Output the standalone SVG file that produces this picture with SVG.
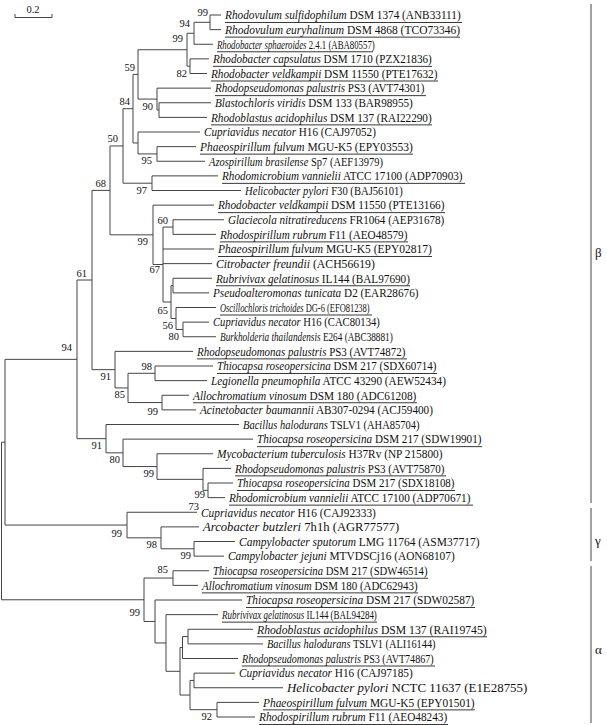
<svg xmlns="http://www.w3.org/2000/svg" width="607" height="725" viewBox="0 0 607 725">
<style>
.t{font-family:"Liberation Serif","Times New Roman",serif;font-size:12px;fill:#111}
.i{font-style:italic}
.u{stroke:#222;stroke-width:0.9}
.b{font-family:"Liberation Serif","Times New Roman",serif;font-size:10.5px;fill:#111;text-anchor:end}
.c{fill:none;stroke:#444;stroke-width:1}
.g{font-family:"Liberation Serif","Times New Roman",serif;font-size:13px;fill:#111}
</style>
<rect width="607" height="725" fill="#fff"/>
<g id="scale-bar">
<text class="b" x="33" y="13" style="text-anchor:middle">0.2</text>
<path class="c" d="M15,14V17.5H52V14"/>
</g>
<g id="connectors">
<path class="c" d="M210,15V29.63M210,15H221M210,29.63H221"/>
<path class="c" d="M194,22.31V44.25M194,22.31H210M194,44.25H213"/>
<path class="c" d="M190,58.88V73.5M190,58.88H209M190,73.5H207"/>
<path class="c" d="M187,33.28V66.19M187,33.28H194M187,66.19H190"/>
<path class="c" d="M159,102.75V117.38M159,102.75H211M159,117.38H207"/>
<path class="c" d="M157,88.13V110.06M157,88.13H211M157,110.06H159"/>
<path class="c" d="M138,49.74V99.1M138,49.74H187M138,99.1H157"/>
<path class="c" d="M157,146.63V161.25M157,146.63H196M157,161.25H205"/>
<path class="c" d="M138,132V153.94M138,132H200M138,153.94H157"/>
<path class="c" d="M133,74.42V142.97M133,74.42H138M133,142.97H138"/>
<path class="c" d="M152,175.88V190.5M152,175.88H218M152,190.5H241"/>
<path class="c" d="M123,108.7V183.19M123,108.7H133M123,183.19H152"/>
<path class="c" d="M173,219.75V234.38M173,219.75H224M173,234.38H216"/>
<path class="c" d="M183,322.13V336.75M183,322.13H209M183,336.75H216"/>
<path class="c" d="M176,307.5V329.44M176,307.5H216M176,329.44H183"/>
<path class="c" d="M173,278.25V292.88M173,278.25H212M173,292.88H209"/>
<path class="c" d="M171,285.56V318.47M171,285.56H173M171,318.47H176"/>
<path class="c" d="M163,227.06V302.02M163,227.06H173M163,249H214M163,263.63H212M163,302.02H171"/>
<path class="c" d="M153,205.13V264.54M153,205.13H214M153,264.54H163"/>
<path class="c" d="M110,145.95V234.84M110,145.95H123M110,234.84H153"/>
<path class="c" d="M155,366V380.63M155,366H213M155,380.63H207"/>
<path class="c" d="M162,395.25V409.88M162,395.25H189M162,409.88H196"/>
<path class="c" d="M128,373.31V402.56M128,373.31H155M128,402.56H162"/>
<path class="c" d="M115,351.38V387.94M115,351.38H193M115,387.94H128"/>
<path class="c" d="M92,190.4V369.66M92,190.4H110M92,369.66H115"/>
<path class="c" d="M208,483V497.63M208,483H233M208,497.63H225"/>
<path class="c" d="M203,468.38V490.31M203,468.38H231M203,490.31H208"/>
<path class="c" d="M157,453.75V479.34M157,453.75H213M157,479.34H203"/>
<path class="c" d="M123,439.13V466.55M123,439.13H253M123,466.55H157"/>
<path class="c" d="M106,424.5V452.84M106,424.5H239M106,452.84H123"/>
<path class="c" d="M77,280.03V438.67M77,280.03H92M77,438.67H106"/>
<path class="c" d="M194,541.5V556.13M194,541.5H235M194,556.13H224"/>
<path class="c" d="M161,526.88V548.81M161,526.88H199M161,548.81H194"/>
<path class="c" d="M127,512.25V537.84M127,512.25H197M127,537.84H161"/>
<path class="c" d="M5,359.35V525.05M5,359.35H77M5,525.05H127"/>
<path class="c" d="M173,570.75V585.38M173,570.75H209M173,585.38H198"/>
<path class="c" d="M188,629.25V643.88M188,629.25H253M188,643.88H263"/>
<path class="c" d="M182.5,636.56V658.5M182.5,636.56H188M182.5,658.5H238"/>
<path class="c" d="M194,673.13V687.75M194,673.13H235M194,687.75H283"/>
<path class="c" d="M217,702.38V717M217,702.38H259M217,717H255"/>
<path class="c" d="M190,680.44V709.69M190,680.44H194M190,709.69H217"/>
<path class="c" d="M180,647.53V695.06M180,647.53H182.5M180,695.06H190"/>
<path class="c" d="M166,614.63V671.3M166,614.63H218M166,671.3H180"/>
<path class="c" d="M155,600V642.96M155,600H242M155,642.96H166"/>
<path class="c" d="M144,578.06V621.48M144,578.06H173M144,621.48H155"/>
<path class="c" d="M1.5,442.2V599.77M1.5,442.2H5M1.5,599.77H144"/>
</g>
<g id="clades">
<path class="c" d="M591,4V503M591,508V561M591,566V723"/>
<text class="g" x="595" y="257">β</text>
<text class="g" x="595" y="545">γ</text>
<text class="g" x="595" y="654">α</text>
</g>
<g id="bootstrap">
<g id="n1"><text class="b" x="208" y="15.5">99</text></g>
<g id="n2"><text class="b" x="190" y="26.5">94</text></g>
<g id="n3"><text class="b" x="183" y="41.5">99</text></g>
<g id="n5"><text class="b" x="135" y="70.9">59</text></g>
<g id="n4"><text class="b" x="187" y="76.7">82</text></g>
<g id="n6"><text class="b" x="130" y="105.2">84</text></g>
<g id="n90"><text class="b" x="153" y="109.6">90</text></g>
<g id="n8"><text class="b" x="118" y="142.4">50</text></g>
<g id="n95"><text class="b" x="152" y="164.4">95</text></g>
<g id="n10"><text class="b" x="106" y="186.9">68</text></g>
<g id="n9"><text class="b" x="147" y="193.7">97</text></g>
<g id="n60"><text class="b" x="168" y="223.5">60</text></g>
<g id="n11"><text class="b" x="148" y="245.3">99</text></g>
<g id="s4"><text class="b" x="160" y="273">67</text></g>
<g id="n12"><text class="b" x="87" y="276.5">61</text></g>
<g id="s3"><text class="b" x="168" y="314">65</text></g>
<g id="s2"><text class="b" x="173" y="329">56</text></g>
<g id="s1"><text class="b" x="179" y="340">80</text></g>
<g id="n14"><text class="b" x="72" y="350.5">94</text></g>
<g id="n98"><text class="b" x="152" y="369.8">98</text></g>
<g id="n91"><text class="b" x="111" y="380.2">91</text></g>
<g id="n85"><text class="b" x="125" y="398.4">85</text></g>
<g id="n99b"><text class="b" x="158" y="415">99</text></g>
<g id="n15"><text class="b" x="102" y="449">91</text></g>
<g id="n16"><text class="b" x="120" y="463.3">80</text></g>
<g id="n17"><text class="b" x="154" y="477.1">99</text></g>
<g id="n19"><text class="b" x="205" y="497.5">99</text></g>
<g id="n18"><text class="b" x="199" y="509.5">73</text></g>
<g id="g1"><text class="b" x="122" y="537">99</text></g>
<g id="g98"><text class="b" x="157" y="548.3">98</text></g>
<g id="g99"><text class="b" x="191" y="559.3">99</text></g>
<g id="a1"><text class="b" x="168" y="572.5">85</text></g>
<g id="a99"><text class="b" x="140" y="615.5">99</text></g>
<g id="a9"><text class="b" x="212" y="720.2">92</text></g>
</g>
<g id="leaves">
<g id="leaf0"><text class="t" transform="matrix(0.9405 0 0 1 225 19.3)"><tspan class="i">Rhodovulum sulfidophilum</tspan> DSM 1374 (ANB33111)</text><line class="u" x1="225" y1="22.5" x2="462" y2="22.5"/></g>
<g id="leaf1"><text class="t" transform="matrix(0.9579 0 0 1 225 33.93)"><tspan class="i">Rhodovulum euryhalinum</tspan> DSM 4868 (TCO73346)</text><line class="u" x1="225" y1="37.13" x2="460" y2="37.13"/></g>
<g id="leaf2"><text class="t" transform="matrix(0.7313 0 0 1 217 48.55)"><tspan class="i">Rhodobacter sphaeroides</tspan> 2.4.1 (ABA80557)</text><line class="u" x1="217" y1="51.75" x2="373" y2="51.75"/></g>
<g id="leaf3"><text class="t" transform="matrix(0.928 0 0 1 213 63.18)"><tspan class="i">Rhodobacter capsulatus</tspan> DSM 1710 (PZX21836)</text><line class="u" x1="213" y1="66.38" x2="432" y2="66.38"/></g>
<g id="leaf4"><text class="t" transform="matrix(0.9381 0 0 1 211 77.8)"><tspan class="i">Rhodobacter veldkampii</tspan> DSM 11550 (PTE17632)</text><line class="u" x1="211" y1="81" x2="438" y2="81"/></g>
<g id="leaf5"><text class="t" transform="matrix(0.9188 0 0 1 215 92.43)"><tspan class="i">Rhodopseudomonas palustris</tspan> PS3 (AVT74301)</text><line class="u" x1="215" y1="95.63" x2="426" y2="95.63"/></g>
<g id="leaf6"><text class="t" transform="matrix(0.9281 0 0 1 215 107.05)"><tspan class="i">Blastochloris viridis</tspan> DSM 133 (BAR98955)</text></g>
<g id="leaf7"><text class="t" transform="matrix(0.9364 0 0 1 211 121.68)"><tspan class="i">Rhodoblastus acidophilus</tspan> DSM 137 (RAI22290)</text><line class="u" x1="211" y1="124.88" x2="432" y2="124.88"/></g>
<g id="leaf8"><text class="t" transform="matrix(0.9298 0 0 1 204 136.3)"><tspan class="i">Cupriavidus necator</tspan> H16 (CAJ97052)</text></g>
<g id="leaf9"><text class="t" transform="matrix(0.9553 0 0 1 200 150.93)"><tspan class="i">Phaeospirillum fulvum</tspan> MGU-K5 (EPY03553)</text><line class="u" x1="200" y1="154.13" x2="413" y2="154.13"/></g>
<g id="leaf10"><text class="t" transform="matrix(0.8743 0 0 1 209 165.55)"><tspan class="i">Azospirillum brasilense</tspan> Sp7 (AEF13979)</text></g>
<g id="leaf11"><text class="t" transform="matrix(0.9298 0 0 1 222 180.18)"><tspan class="i">Rhodomicrobium vannielii</tspan> ATCC 17100 (ADP70903)</text><line class="u" x1="222" y1="183.38" x2="465" y2="183.38"/></g>
<g id="leaf12"><text class="t" transform="matrix(0.8861 0 0 1 245 194.8)"><tspan class="i">Helicobacter pylori</tspan> F30 (BAJ56101)</text></g>
<g id="leaf13"><text class="t" transform="matrix(0.9381 0 0 1 218 209.43)"><tspan class="i">Rhodobacter veldkampii</tspan> DSM 11550 (PTE13166)</text><line class="u" x1="218" y1="212.63" x2="445" y2="212.63"/></g>
<g id="leaf14"><text class="t" transform="matrix(0.9261 0 0 1 228 224.05)"><tspan class="i">Glaciecola nitratireducens</tspan> FR1064 (AEP31678)</text></g>
<g id="leaf15"><text class="t" transform="matrix(0.9353 0 0 1 220 238.68)"><tspan class="i">Rhodospirillum rubrum</tspan> F11 (AEO48579)</text><line class="u" x1="220" y1="241.88" x2="408" y2="241.88"/></g>
<g id="leaf16"><text class="t" transform="matrix(0.9598 0 0 1 218 253.3)"><tspan class="i">Phaeospirillum fulvum</tspan> MGU-K5 (EPY02817)</text><line class="u" x1="218" y1="256.5" x2="432" y2="256.5"/></g>
<g id="leaf17"><text class="t" transform="matrix(0.9796 0 0 1 216 267.93)"><tspan class="i">Citrobacter freundii</tspan> (ACH56619)</text></g>
<g id="leaf18"><text class="t" transform="matrix(0.9343 0 0 1 216 282.55)"><tspan class="i">Rubrivivax gelatinosus</tspan> IL144 (BAL97690)</text><line class="u" x1="216" y1="285.75" x2="410" y2="285.75"/></g>
<g id="leaf19"><text class="t" transform="matrix(0.9351 0 0 1 213 297.18)"><tspan class="i">Pseudoalteromonas tunicata</tspan> D2 (EAR28676)</text></g>
<g id="leaf20"><text class="t" transform="matrix(0.7033 0 0 1 220 311.8)"><tspan class="i">Oscillochloris trichoides</tspan> DG-6 (EFO81238)</text><line class="u" x1="220" y1="315" x2="372" y2="315"/></g>
<g id="leaf21"><text class="t" transform="matrix(0.8868 0 0 1 213 326.43)"><tspan class="i">Cupriavidus necator</tspan> H16 (CAC80134)</text></g>
<g id="leaf22"><text class="t" transform="matrix(0.7689 0 0 1 220 341.05)"><tspan class="i">Burkholderia thailandensis</tspan> E264 (ABC38881)</text></g>
<g id="leaf23"><text class="t" transform="matrix(0.9144 0 0 1 197 355.68)"><tspan class="i">Rhodopseudomonas palustris</tspan> PS3 (AVT74872)</text><line class="u" x1="197" y1="358.88" x2="407" y2="358.88"/></g>
<g id="leaf24"><text class="t" transform="matrix(0.9193 0 0 1 217 370.3)"><tspan class="i">Thiocapsa roseopersicina</tspan> DSM 217 (SDX60714)</text><line class="u" x1="217" y1="373.5" x2="437" y2="373.5"/></g>
<g id="leaf25"><text class="t" transform="matrix(0.9356 0 0 1 211 384.93)"><tspan class="i">Legionella pneumophila</tspan> ATCC 43290 (AEW52434)</text></g>
<g id="leaf26"><text class="t" transform="matrix(0.9438 0 0 1 193 399.55)"><tspan class="i">Allochromatium vinosum</tspan> DSM 180 (ADC61208)</text><line class="u" x1="193" y1="402.75" x2="417" y2="402.75"/></g>
<g id="leaf27"><text class="t" transform="matrix(0.9373 0 0 1 200 414.18)"><tspan class="i">Acinetobacter baumannii</tspan> AB307-0294 (ACJ59400)</text></g>
<g id="leaf28"><text class="t" transform="matrix(0.8769 0 0 1 243 428.8)"><tspan class="i">Bacillus halodurans</tspan> TSLV1 (AHA85704)</text></g>
<g id="leaf29"><text class="t" transform="matrix(0.9298 0 0 1 257 443.43)"><tspan class="i">Thiocapsa roseopersicina</tspan> DSM 217 (SDW19901)</text><line class="u" x1="257" y1="446.63" x2="482" y2="446.63"/></g>
<g id="leaf30"><text class="t" transform="matrix(0.9445 0 0 1 217 458.05)"><tspan class="i">Mycobacterium tuberculosis</tspan> H37Rv (NP 215800)</text></g>
<g id="leaf31"><text class="t" transform="matrix(0.9188 0 0 1 235 472.68)"><tspan class="i">Rhodopseudomonas palustris</tspan> PS3 (AVT75870)</text><line class="u" x1="235" y1="475.88" x2="446" y2="475.88"/></g>
<g id="leaf32"><text class="t" transform="matrix(0.9109 0 0 1 237 487.3)"><tspan class="i">Thiocapsa roseopersicina</tspan> DSM 217 (SDX18108)</text><line class="u" x1="237" y1="490.5" x2="455" y2="490.5"/></g>
<g id="leaf33"><text class="t" transform="matrix(0.9337 0 0 1 229 501.93)"><tspan class="i">Rhodomicrobium vannielii</tspan> ATCC 17100 (ADP70671)</text><line class="u" x1="229" y1="505.13" x2="473" y2="505.13"/></g>
<g id="leaf34"><text class="t" transform="matrix(0.946 0 0 1 201 516.55)"><tspan class="i">Cupriavidus necator</tspan> H16 (CAJ92333)</text></g>
<g id="leaf35"><text class="t" transform="matrix(1.0535 0 0 1 203 531.18)"><tspan class="i">Arcobacter butzleri</tspan> 7h1h (AGR77577)</text></g>
<g id="leaf36"><text class="t" transform="matrix(0.9564 0 0 1 239 545.8)"><tspan class="i">Campylobacter sputorum</tspan> LMG 11764 (ASM37717)</text></g>
<g id="leaf37"><text class="t" transform="matrix(0.9473 0 0 1 228 560.43)"><tspan class="i">Campylobacter jejuni</tspan> MTVDSCj16 (AON68107)</text></g>
<g id="leaf38"><text class="t" transform="matrix(0.8884 0 0 1 213 575.05)"><tspan class="i">Thiocapsa roseopersicina</tspan> DSM 217 (SDW46514)</text><line class="u" x1="213" y1="578.25" x2="428" y2="578.25"/></g>
<g id="leaf39"><text class="t" transform="matrix(0.9102 0 0 1 202 589.68)"><tspan class="i">Allochromatium vinosum</tspan> DSM 180 (ADC62943)</text><line class="u" x1="202" y1="592.88" x2="418" y2="592.88"/></g>
<g id="leaf40"><text class="t" transform="matrix(0.9463 0 0 1 246 604.3)"><tspan class="i">Thiocapsa roseopersicina</tspan> DSM 217 (SDW02587)</text><line class="u" x1="246" y1="607.5" x2="475" y2="607.5"/></g>
<g id="leaf41"><text class="t" transform="matrix(0.7464 0 0 1 222 618.93)"><tspan class="i">Rubrivivax gelatinosus</tspan> IL144 (BAL94284)</text><line class="u" x1="222" y1="622.13" x2="377" y2="622.13"/></g>
<g id="leaf42"><text class="t" transform="matrix(0.9746 0 0 1 257 633.55)"><tspan class="i">Rhodoblastus acidophilus</tspan> DSM 137 (RAI19745)</text><line class="u" x1="257" y1="636.75" x2="487" y2="636.75"/></g>
<g id="leaf43"><text class="t" transform="matrix(0.863 0 0 1 267 648.18)"><tspan class="i">Bacillus halodurans</tspan> TSLV1 (ALI16144)</text></g>
<g id="leaf44"><text class="t" transform="matrix(0.8404 0 0 1 242 662.8)"><tspan class="i">Rhodopseudomonas palustris</tspan> PS3 (AVT74867)</text><line class="u" x1="242" y1="666" x2="435" y2="666"/></g>
<g id="leaf45"><text class="t" transform="matrix(0.9406 0 0 1 239 677.43)"><tspan class="i">Cupriavidus necator</tspan> H16 (CAJ97185)</text></g>
<g id="leaf46"><text class="t" transform="matrix(1.076 0 0 1 287 692.05)"><tspan class="i">Helicobacter pylori</tspan> NCTC 11637 (E1E28755)</text></g>
<g id="leaf47"><text class="t" transform="matrix(0.9508 0 0 1 263 706.68)"><tspan class="i">Phaeospirillum fulvum</tspan> MGU-K5 (EPY01501)</text><line class="u" x1="263" y1="709.88" x2="475" y2="709.88"/></g>
<g id="leaf48"><text class="t" transform="matrix(0.9403 0 0 1 259 721.3)"><tspan class="i">Rhodospirillum rubrum</tspan> F11 (AEO48243)</text><line class="u" x1="259" y1="724.5" x2="448" y2="724.5"/></g>
</g>
</svg>
